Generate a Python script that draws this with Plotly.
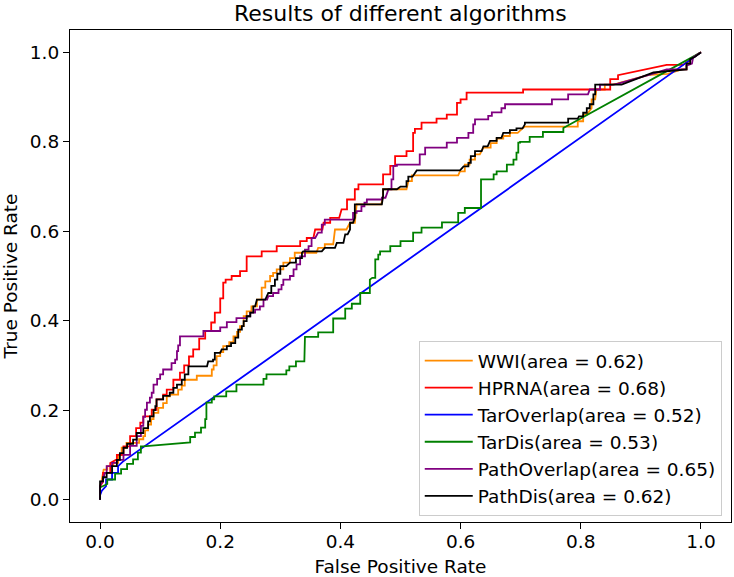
import plotly.graph_objects as go

# ---------------- data ----------------
tick_vals = [0.0, 0.2, 0.4, 0.6, 0.8, 1.0]
tick_text = ["0.0", "0.2", "0.4", "0.6", "0.8", "1.0"]

names = ["WWI(area = 0.62)", "HPRNA(area = 0.68)", "TarOverlap(area = 0.52)",
         "TarDis(area = 0.53)", "PathOverlap(area = 0.65)", "PathDis(area = 0.62)"]
colors = ["#ff8c00", "#ff0000", "#0000ff", "#008000", "#800080", "#000000"]

wwi_pts = [(0,0),(0,0.03),(0.003,0.045),(0.006,0.067),(0.012,0.067),(0.012,0.075),(0.022,0.075),(0.022,0.082),(0.03,0.082),(0.03,0.1),(0.036,0.1),(0.036,0.116),(0.044,0.116),(0.044,0.127),(0.065,0.127),(0.065,0.135),(0.072,0.135),(0.072,0.142),(0.075,0.142),(0.075,0.155),(0.08,0.155),(0.08,0.168),(0.085,0.168),(0.085,0.18),(0.089,0.18),(0.089,0.194),(0.097,0.194),(0.097,0.205),(0.105,0.205),(0.105,0.216),(0.111,0.216),(0.111,0.231),(0.116,0.231),(0.116,0.235),(0.13,0.235),(0.13,0.246),(0.136,0.246),(0.136,0.255),(0.141,0.255),(0.141,0.268),(0.161,0.268),(0.161,0.277),(0.186,0.277),(0.186,0.291),(0.189,0.291),(0.189,0.3),(0.194,0.3),(0.194,0.321),(0.2,0.321),(0.2,0.33),(0.205,0.33),(0.205,0.343),(0.215,0.343),(0.215,0.352),(0.222,0.352),(0.222,0.365),(0.228,0.365),(0.228,0.375),(0.233,0.375),(0.233,0.388),(0.239,0.388),(0.239,0.41),(0.244,0.41),(0.244,0.421),(0.252,0.421),(0.252,0.432),(0.261,0.432),(0.261,0.447),(0.269,0.447),(0.269,0.474),(0.275,0.474),(0.275,0.488),(0.283,0.488),(0.283,0.5),(0.288,0.5),(0.288,0.507),(0.294,0.507),(0.294,0.515),(0.305,0.515),(0.305,0.53),(0.316,0.53),(0.316,0.54),(0.324,0.54),(0.324,0.552),(0.36,0.552),(0.363,0.563),(0.374,0.563),(0.374,0.571),(0.388,0.571),(0.391,0.604),(0.41,0.604),(0.416,0.619),(0.424,0.619),(0.427,0.66),(0.468,0.66),(0.471,0.679),(0.471,0.694),(0.51,0.694),(0.513,0.712),(0.519,0.712),(0.519,0.725),(0.596,0.725),(0.599,0.734),(0.607,0.734),(0.607,0.749),(0.615,0.749),(0.615,0.76),(0.624,0.76),(0.624,0.772),(0.632,0.772),(0.638,0.787),(0.65,0.787),(0.65,0.797),(0.66,0.797),(0.66,0.807),(0.671,0.807),(0.671,0.813),(0.682,0.813),(0.682,0.82),(0.695,0.82),(0.704,0.831),(0.707,0.834),(0.795,0.834),(0.795,0.846),(0.804,0.846),(0.804,0.861),(0.81,0.861),(0.818,0.875),(0.818,0.895),(0.824,0.895),(0.826,0.917),(0.84,0.917),(0.84,0.928),(0.851,0.928),(0.86,0.93),(0.915,0.95),(0.945,0.952),(0.968,0.962),(0.976,0.962),(0.976,0.975),(0.987,0.989),(1,1)]

hprna_pts = [(0,0),(0,0.03),(0.005,0.04),(0.005,0.06),(0.017,0.06),(0.017,0.082),(0.028,0.09),(0.028,0.1),(0.039,0.1),(0.039,0.119),(0.05,0.119),(0.05,0.142),(0.06,0.142),(0.06,0.16),(0.067,0.16),(0.067,0.172),(0.072,0.172),(0.072,0.186),(0.086,0.186),(0.086,0.201),(0.094,0.201),(0.094,0.224),(0.105,0.224),(0.105,0.235),(0.111,0.235),(0.111,0.246),(0.122,0.246),(0.122,0.268),(0.133,0.268),(0.133,0.284),(0.14,0.284),(0.14,0.3),(0.148,0.3),(0.148,0.32),(0.155,0.32),(0.155,0.336),(0.165,0.336),(0.165,0.36),(0.175,0.36),(0.175,0.377),(0.185,0.377),(0.185,0.396),(0.191,0.396),(0.191,0.418),(0.2,0.418),(0.2,0.45),(0.205,0.45),(0.205,0.485),(0.209,0.485),(0.209,0.492),(0.219,0.492),(0.219,0.5),(0.233,0.5),(0.233,0.511),(0.244,0.511),(0.244,0.544),(0.269,0.544),(0.269,0.555),(0.294,0.555),(0.294,0.567),(0.333,0.567),(0.333,0.578),(0.344,0.578),(0.344,0.585),(0.355,0.585),(0.358,0.604),(0.37,0.604),(0.372,0.619),(0.383,0.619),(0.383,0.63),(0.398,0.63),(0.402,0.649),(0.411,0.649),(0.411,0.671),(0.424,0.671),(0.424,0.694),(0.43,0.694),(0.43,0.705),(0.471,0.705),(0.471,0.727),(0.483,0.727),(0.483,0.746),(0.491,0.746),(0.491,0.768),(0.51,0.768),(0.51,0.779),(0.521,0.779),(0.521,0.82),(0.524,0.82),(0.524,0.829),(0.535,0.829),(0.535,0.843),(0.56,0.843),(0.56,0.852),(0.577,0.852),(0.577,0.861),(0.594,0.861),(0.594,0.887),(0.6,0.887),(0.6,0.895),(0.61,0.895),(0.61,0.91),(0.704,0.91),(0.704,0.917),(0.849,0.917),(0.849,0.94),(0.862,0.94),(0.862,0.949),(0.943,0.972),(0.97,0.972),(1,1)]

taroverlap_pts = [(0,0),(0,0.01),(0.003,0.02),(0.01,0.03),(0.01,0.045),(0.02,0.045),(0.02,0.06),(0.03,0.06),(0.03,0.075),(0.038,0.085),(1,1)]

tardis_pts = [(0,0),(0,0.027),(0.012,0.035),(0.012,0.045),(0.025,0.045),(0.025,0.058),(0.035,0.058),(0.035,0.068),(0.045,0.068),(0.045,0.08),(0.055,0.08),(0.055,0.09),(0.063,0.09),(0.063,0.105),(0.068,0.105),(0.068,0.119),(0.072,0.119),(0.15,0.128),(0.15,0.14),(0.158,0.14),(0.158,0.15),(0.168,0.15),(0.168,0.161),(0.175,0.161),(0.175,0.18),(0.177,0.18),(0.177,0.217),(0.186,0.217),(0.186,0.224),(0.19,0.224),(0.19,0.231),(0.21,0.231),(0.21,0.242),(0.227,0.242),(0.227,0.257),(0.272,0.257),(0.272,0.27),(0.277,0.27),(0.277,0.28),(0.31,0.28),(0.31,0.289),(0.315,0.289),(0.315,0.298),(0.326,0.298),(0.326,0.309),(0.34,0.309),(0.341,0.364),(0.363,0.364),(0.363,0.374),(0.388,0.374),(0.388,0.405),(0.408,0.405),(0.408,0.427),(0.419,0.427),(0.419,0.438),(0.433,0.438),(0.433,0.462),(0.449,0.462),(0.449,0.492),(0.453,0.496),(0.458,0.496),(0.458,0.537),(0.463,0.537),(0.463,0.548),(0.466,0.548),(0.466,0.555),(0.483,0.555),(0.483,0.567),(0.5,0.567),(0.5,0.578),(0.521,0.578),(0.521,0.597),(0.535,0.597),(0.535,0.608),(0.569,0.608),(0.569,0.62),(0.596,0.62),(0.596,0.641),(0.607,0.641),(0.607,0.652),(0.634,0.652),(0.634,0.716),(0.655,0.716),(0.655,0.727),(0.66,0.727),(0.66,0.734),(0.677,0.734),(0.677,0.749),(0.688,0.749),(0.688,0.76),(0.693,0.76),(0.693,0.776),(0.696,0.776),(0.696,0.798),(0.699,0.798),(0.699,0.80),(0.715,0.80),(0.715,0.811),(0.737,0.811),(0.737,0.822),(0.771,0.822),(0.771,0.831),(1,1)]

pathoverlap_pts = [(0,0),(0,0.03),(0.005,0.045),(0.008,0.06),(0.011,0.06),(0.011,0.075),(0.02,0.075),(0.02,0.082),(0.028,0.082),(0.028,0.089),(0.039,0.089),(0.039,0.1),(0.05,0.1),(0.05,0.12),(0.061,0.12),(0.061,0.142),(0.068,0.142),(0.068,0.165),(0.072,0.165),(0.072,0.185),(0.075,0.185),(0.075,0.201),(0.078,0.201),(0.078,0.217),(0.083,0.217),(0.083,0.228),(0.086,0.228),(0.086,0.239),(0.089,0.239),(0.089,0.257),(0.095,0.257),(0.095,0.27),(0.1,0.27),(0.1,0.28),(0.105,0.28),(0.105,0.291),(0.119,0.291),(0.119,0.305),(0.125,0.305),(0.125,0.313),(0.128,0.313),(0.128,0.332),(0.13,0.332),(0.13,0.345),(0.133,0.345),(0.133,0.365),(0.172,0.365),(0.172,0.377),(0.2,0.377),(0.2,0.385),(0.211,0.385),(0.211,0.397),(0.227,0.397),(0.227,0.406),(0.244,0.406),(0.244,0.41),(0.25,0.41),(0.25,0.418),(0.258,0.418),(0.258,0.425),(0.266,0.425),(0.266,0.432),(0.272,0.432),(0.272,0.447),(0.278,0.447),(0.28,0.455),(0.288,0.455),(0.288,0.462),(0.297,0.462),(0.297,0.47),(0.302,0.47),(0.302,0.48),(0.305,0.48),(0.305,0.492),(0.316,0.492),(0.316,0.5),(0.322,0.5),(0.322,0.515),(0.327,0.515),(0.327,0.526),(0.333,0.526),(0.333,0.544),(0.341,0.544),(0.341,0.559),(0.347,0.559),(0.347,0.567),(0.352,0.567),(0.352,0.585),(0.358,0.585),(0.363,0.597),(0.369,0.597),(0.369,0.615),(0.374,0.615),(0.374,0.626),(0.421,0.626),(0.421,0.641),(0.427,0.641),(0.427,0.645),(0.435,0.645),(0.435,0.656),(0.44,0.656),(0.44,0.664),(0.444,0.664),(0.444,0.671),(0.469,0.671),(0.469,0.675),(0.475,0.675),(0.48,0.694),(0.485,0.694),(0.485,0.716),(0.488,0.716),(0.488,0.746),(0.494,0.746),(0.494,0.749),(0.532,0.749),(0.532,0.772),(0.541,0.772),(0.541,0.787),(0.577,0.787),(0.577,0.798),(0.594,0.798),(0.594,0.809),(0.613,0.809),(0.613,0.82),(0.621,0.82),(0.621,0.839),(0.624,0.839),(0.624,0.85),(0.646,0.85),(0.646,0.858),(0.652,0.858),(0.652,0.866),(0.668,0.866),(0.668,0.875),(0.674,0.875),(0.674,0.884),(0.752,0.884),(0.752,0.895),(0.779,0.895),(0.779,0.906),(0.812,0.906),(0.815,0.917),(0.832,0.917),(0.832,0.928),(0.854,0.928),(0.862,0.93),(0.915,0.95),(0.943,0.962),(0.976,0.962),(0.976,0.97),(0.985,0.975),(0.987,0.989),(1,1)]

pathdis_pts = [(0,0),(0,0.041),(0.005,0.041),(0.005,0.05),(0.011,0.05),(0.011,0.06),(0.02,0.06),(0.02,0.075),(0.028,0.075),(0.028,0.089),(0.033,0.089),(0.033,0.104),(0.039,0.104),(0.039,0.116),(0.045,0.116),(0.045,0.125),(0.055,0.125),(0.055,0.134),(0.061,0.134),(0.061,0.149),(0.072,0.149),(0.072,0.16),(0.08,0.16),(0.08,0.175),(0.083,0.175),(0.083,0.186),(0.089,0.186),(0.089,0.2),(0.092,0.2),(0.092,0.209),(0.094,0.209),(0.094,0.224),(0.105,0.224),(0.105,0.232),(0.116,0.232),(0.116,0.239),(0.122,0.239),(0.122,0.25),(0.128,0.25),(0.128,0.257),(0.136,0.257),(0.136,0.268),(0.141,0.268),(0.141,0.28),(0.147,0.28),(0.147,0.298),(0.178,0.298),(0.18,0.309),(0.188,0.309),(0.188,0.313),(0.191,0.313),(0.191,0.328),(0.2,0.328),(0.2025,0.336),(0.211,0.336),(0.211,0.343),(0.218,0.343),(0.218,0.35),(0.225,0.35),(0.225,0.362),(0.23,0.362),(0.23,0.38),(0.236,0.38),(0.236,0.388),(0.239,0.388),(0.239,0.399),(0.244,0.399),(0.244,0.41),(0.25,0.41),(0.25,0.418),(0.255,0.418),(0.255,0.432),(0.258,0.432),(0.261,0.447),(0.275,0.447),(0.28,0.462),(0.285,0.462),(0.285,0.478),(0.291,0.478),(0.291,0.492),(0.295,0.492),(0.295,0.505),(0.3,0.505),(0.3,0.522),(0.31,0.522),(0.316,0.53),(0.326,0.53),(0.326,0.54),(0.336,0.54),(0.336,0.552),(0.338,0.555),(0.369,0.555),(0.374,0.563),(0.391,0.563),(0.394,0.574),(0.405,0.574),(0.408,0.593),(0.412,0.593),(0.416,0.604),(0.416,0.619),(0.421,0.619),(0.424,0.63),(0.424,0.66),(0.469,0.66),(0.471,0.679),(0.471,0.694),(0.494,0.694),(0.5,0.70),(0.51,0.70),(0.51,0.712),(0.513,0.712),(0.513,0.722),(0.52,0.722),(0.527,0.736),(0.599,0.736),(0.605,0.745),(0.613,0.745),(0.613,0.753),(0.617,0.753),(0.617,0.768),(0.624,0.768),(0.624,0.779),(0.635,0.779),(0.638,0.79),(0.645,0.79),(0.649,0.802),(0.66,0.802),(0.66,0.809),(0.668,0.809),(0.671,0.82),(0.682,0.82),(0.682,0.826),(0.693,0.826),(0.693,0.83),(0.703,0.83),(0.707,0.839),(0.707,0.843),(0.779,0.843),(0.779,0.852),(0.795,0.852),(0.797,0.857),(0.804,0.857),(0.804,0.865),(0.81,0.865),(0.81,0.875),(0.815,0.875),(0.815,0.884),(0.821,0.884),(0.821,0.906),(0.824,0.906),(0.824,0.928),(0.868,0.928),(0.921,0.955),(0.968,0.962),(0.976,0.962),(0.976,0.975),(0.982,0.975),(0.982,0.985),(0.99,0.99),(1,1)]

curves = [wwi_pts, hprna_pts, taroverlap_pts, tardis_pts, pathoverlap_pts, pathdis_pts]

# ---------------- figure ----------------
FONT = "DejaVu Sans"
FS = 18.5
fig = go.Figure()
for pts, name, col in zip(curves, names, colors):
    fig.add_trace(go.Scatter(
        x=[p[0] for p in pts], y=[p[1] for p in pts],
        mode="lines", name=name,
        line=dict(color=col, width=1.8),
    ))

axis_common = dict(
    showline=True, mirror=True, linecolor="black", linewidth=1.2,
    ticks="outside", ticklen=6, tickwidth=1.2, tickcolor="black",
    showgrid=False, zeroline=False,
    tickvals=tick_vals, ticktext=tick_text,
    tickfont=dict(family=FONT, size=FS, color="black"),
    automargin=False,
)

fig.update_layout(
    width=734, height=577,
    margin=dict(l=70, r=3, t=30, b=55),
    paper_bgcolor="white", plot_bgcolor="white",
    font=dict(family=FONT, size=FS, color="black"),
    title=dict(text="Results of different algorithms", x=0.5455, xanchor="center",
               yref="container", y=1 - 13 / 577, yanchor="middle",
               font=dict(family=FONT, size=22, color="black")),
    xaxis=dict(range=[-0.05, 1.05], ticklabelstandoff=-3,
               title=dict(text="False Positive Rate", standoff=10,
                          font=dict(family=FONT, size=FS, color="black")),
               **axis_common),
    yaxis=dict(range=[-0.05, 1.05],
               title=dict(text="True Positive Rate", standoff=8,
                          font=dict(family=FONT, size=FS, color="black")),
               **axis_common),
    legend=dict(x=0.986, y=0.012, xanchor="right", yanchor="bottom",
                itemwidth=48,
                bgcolor="rgba(255,255,255,0.8)", bordercolor="#cccccc", borderwidth=1,
                font=dict(family=FONT, size=FS, color="black")),
    showlegend=True,
)

fig.write_html("out.html")
